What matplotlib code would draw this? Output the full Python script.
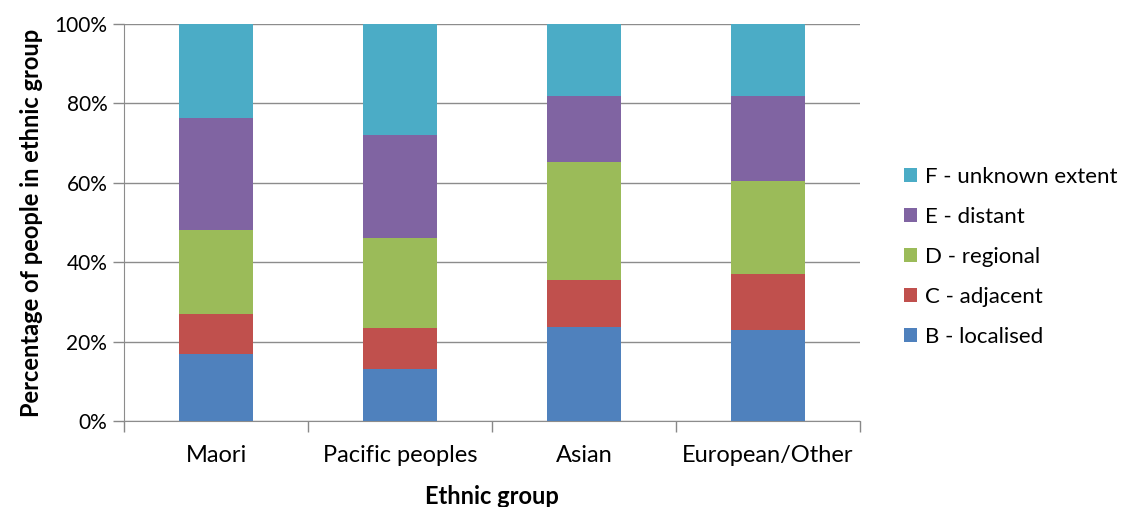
import numpy as np
import matplotlib.pyplot as plt
from matplotlib.ticker import PercentFormatter

# Grupy etniczne i udział poszczególnych kategorii zasięgu (%)
groups = ['Maori', 'Pacific peoples', 'Asian', 'European/Other']
categories = ['B - localised', 'C - adjacent', 'D - regional', 'E - distant', 'F - unknown extent']
b_localised = [17.0, 13.0, 23.6, 23.0]
c_adjacent = [10.0, 10.3, 11.9, 14.1]
d_regional = [21.0, 22.9, 29.7, 23.4]
e_distant = [28.2, 25.9, 16.7, 21.4]
f_unknown = [23.8, 27.9, 18.1, 18.1]
colors = ['#4f81bd', '#c0504d', '#9bbb59', '#8064a2', '#4bacc6']

plt.rcParams['font.family'] = ['Lato', 'DejaVu Sans']

fig = plt.figure(figsize=(11.33, 5.07), dpi=100)
ax = fig.add_axes([124 / 1133, 86 / 507, 736 / 1133, 397 / 507])

x = np.arange(len(groups))
bottom = np.zeros(len(groups))
handles = []
for vals, lab, col in zip([b_localised, c_adjacent, d_regional, e_distant, f_unknown], categories, colors):
    h = ax.bar(x, vals, width=0.4, bottom=bottom, color=col, label=lab, zorder=3)
    handles.append(h)
    bottom += np.array(vals)

ax.set_xlim(-0.5, len(groups) - 0.5)
ax.set_ylim(0, 100)
ax.set_yticks(np.arange(0, 101, 20))
ax.yaxis.set_major_formatter(PercentFormatter(decimals=0))
ax.set_xticks(x)
ax.set_xticklabels(groups, fontsize=17)
ax.set_xticks(np.arange(-0.5, len(groups)), minor=True)
ax.tick_params(axis='x', which='major', length=0, pad=17)
ax.tick_params(axis='x', which='minor', length=8, color='#888888', width=1)
ax.tick_params(axis='y', length=8, color='#888888', width=1, labelsize=15, pad=4)

ax.grid(axis='y', color='#8c8c8c', linewidth=1, zorder=0)
for s in ['top', 'right']:
    ax.spines[s].set_visible(False)
for s in ['left', 'bottom']:
    ax.spines[s].set_color('#8c8c8c')

ax.set_xlabel('Ethnic group', fontsize=17, fontweight='bold', labelpad=14)
ax.set_ylabel('Percentage of people in ethnic group', fontsize=17, fontweight='bold', labelpad=8)

leg = fig.legend(handles[::-1], categories[::-1], loc='center left',
                 bbox_to_anchor=(904 / 1133, 250 / 507), frameon=False,
                 borderpad=0, borderaxespad=0,
                 fontsize=16, handlelength=0.6, handleheight=0.6,
                 handletextpad=0.35, labelspacing=0.9)

fig.savefig('out.png', dpi=100)
